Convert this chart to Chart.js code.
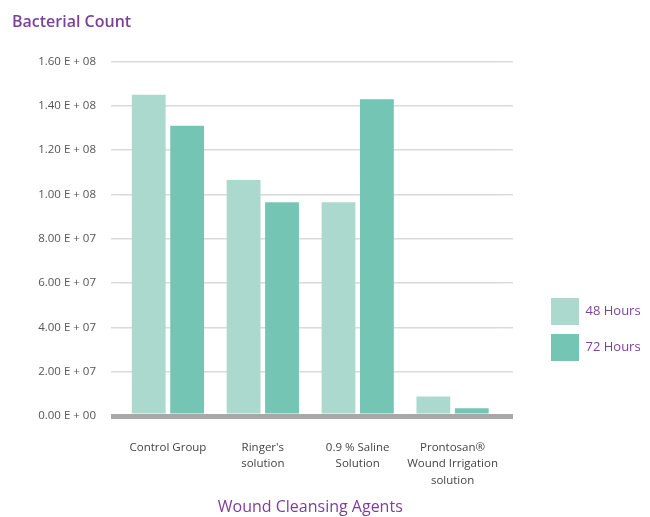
<!DOCTYPE html>
<html>
<head>
<meta charset="utf-8">
<script src="https://cdn.jsdelivr.net/npm/chart.js@4.4.0/dist/chart.umd.min.js"></script>
<style>
  html, body { margin: 0; padding: 0; background: #ffffff; }
  #wrap { width: 650px; height: 517px; position: relative; }
</style>
</head>
<body>
<div id="wrap"><canvas id="c" width="650" height="517"></canvas></div>
<script>
const categories = [
  'Control Group',
  ["Ringer's", 'solution'],
  ['0.9 % Saline', 'Solution'],
  ['Prontosan\u00AE', 'Wound Irrigation', 'solution']
];
const seriesNames = ['48 Hours', '72 Hours'];
const hours48 = [1.45e8, 1.065e8, 0.965e8, 0.088e8];
const hours72 = [1.31e8, 0.965e8, 1.43e8, 0.035e8];
const yTickLabels = ['0.00 E + 00', '2.00 E + 07', '4.00 E + 07', '6.00 E + 07',
  '8.00 E + 07', '1.00 E + 08', '1.20 E + 08', '1.40 E + 08', '1.60 E + 08'];
const chartTitle = 'Bacterial Count';
const xTitle = 'Wound Cleansing Agents';

const purple = '#7d3f9c';
const gridColor = '#dadada';
const axisColor = '#a8a8a8';
const gridWidth = (ctx) => (ctx.tick && ctx.tick.value === 0 ? 5 : 1.5);
const gridCol = (ctx) => (ctx.tick && ctx.tick.value === 0 ? axisColor : gridColor);

new Chart(document.getElementById('c'), {
  type: 'bar',
  data: {
    labels: categories,
    datasets: [
      { label: seriesNames[0], data: hours48, backgroundColor: '#acd9ce', borderWidth: 0,
        categoryPercentage: 0.81, barPercentage: 0.88 },
      { label: seriesNames[1], data: hours72, backgroundColor: '#74c5b4', borderWidth: 0,
        categoryPercentage: 0.81, barPercentage: 0.88 }
    ]
  },
  options: {
    responsive: false,
    animation: false,
    layout: { padding: { left: 12, right: 0, top: 0, bottom: 0 } },
    plugins: {
      title: {
        display: true, text: chartTitle, align: 'start', color: purple,
        font: { family: 'Open Sans', size: 16, weight: '600' },
        padding: { top: 12.5, bottom: 29.8 }
      },
      legend: {
        display: true, position: 'right', align: 'start', fullSize: false, maxWidth: 108,
        title: { display: true, text: ' ', font: { size: 10 }, padding: { top: 215.5, bottom: 0 } },
        labels: {
          boxWidth: 28, boxHeight: 27, padding: 9, color: purple,
          font: { family: 'Open Sans', size: 13 }
        }
      },
      tooltip: { enabled: false }
    },
    scales: {
      x: {
        grid: { display: false, drawTicks: false },
        border: { display: false },
        ticks: {
          color: '#444', padding: 24, maxRotation: 0, autoSkip: false,
          font: { family: 'Open Sans', size: 11.5, lineHeight: 1.4 }
        },
        title: {
          display: true, text: xTitle, color: purple,
          font: { family: 'Open Sans', size: 16 }, padding: { top: 0, bottom: 0 }
        },
        afterFit: (s) => { s.height = 101; }
      },
      y: {
        min: 0, max: 1.6e8,
        grid: { color: gridCol, lineWidth: gridWidth, drawTicks: true, tickLength: 9.5 },
        border: { display: false },
        ticks: {
          stepSize: 2e7, padding: 15, color: '#555',
          font: { family: 'Open Sans', size: 11.5 },
          callback: (v, i) => yTickLabels[i]
        },
        afterFit: (s) => { s.width = 108.5; }
      },
      y2: {
        position: 'right', min: 0, max: 1.6e8,
        grid: { color: gridCol, lineWidth: gridWidth, drawOnChartArea: false, drawTicks: true, tickLength: 13 },
        border: { display: false },
        ticks: { stepSize: 2e7, display: false },
        afterFit: (s) => { s.width = 42; }
      }
    }
  }
});
</script>
</body>
</html>
